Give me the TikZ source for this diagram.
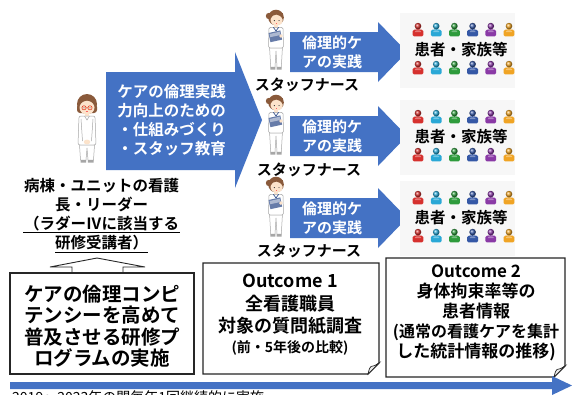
\documentclass[tikz,border=0pt]{standalone}
\usepackage{fontspec}
\setmainfont[BoldFont={Noto Sans CJK JP Bold}]{Noto Sans CJK JP}
\usetikzlibrary{calc}

\definecolor{flowblue}{HTML}{4472C4}
\definecolor{hair}{HTML}{8A5A3B}
\definecolor{skin}{HTML}{FCE3CB}
\definecolor{navy}{HTML}{34508C}
\definecolor{pred}{HTML}{D6312E}
\definecolor{pcyan}{HTML}{2AA8D6}
\definecolor{pgreen}{HTML}{2E9B3C}
\definecolor{pblue}{HTML}{3558A6}
\definecolor{ppurple}{HTML}{8A3AA6}
\definecolor{porange}{HTML}{F0A424}

\tikzset{
  % small coloured person icon
  pics/person/.style={code={
    \fill[#1,rounded corners=1.3] (-5.4,6.3) -- (-5.4,2.4) .. controls (-5.4,-1.4) and (5.4,-1.4) .. (5.4,2.4) -- (5.4,6.3) -- cycle;
    \fill[white,opacity=.35] (-2.8,1.2) .. controls (-2.2,0) and (2.2,0) .. (2.8,1.2) -- (2.8,2.1) -- (-2.8,2.1) -- cycle;
    \shade[ball color=#1] (0,-3.9) circle (3.3);
  }},
  % head nurse with glasses, hands folded
  pics/headnurse/.style={code={
    \fill[hair] (0,-1) circle (10);
    \fill[hair,rounded corners=3] (-10,-1) rectangle (10,8);
    \fill[skin] (0,2.5) ellipse (7.5 and 7);
    \fill[hair] (-7.6,1) .. controls (-4,-6.5) and (4,-6.5) .. (7.6,1) -- (7.6,-7) -- (-7.6,-7) -- cycle;
    \draw[red!55!brown,line width=.55] (-3,2.8) circle (2.1) (3,2.8) circle (2.1) (-0.9,2.8) -- (0.9,2.8);
    \fill[black!80] (-3,2.9) circle (.55) (3,2.9) circle (.55);
    \draw[red!60,line width=.5] (-1.3,6.3) .. controls (0,7.2) .. (1.3,6.3);
    \fill[skin] (-2,8.5) rectangle (2,11.5);
    \filldraw[fill=white,draw=black!35,line width=.5,rounded corners=2] (-8,11) -- (8,11) -- (9,40) -- (-9,40) -- cycle;
    \draw[black!35,line width=.5] (-2.5,11) -- (0,15) -- (2.5,11);
    \draw[black!35,line width=.5] (-6,14) -- (-4.5,36) (6,14) -- (4.5,36);
    \fill[skin] (0,37) ellipse (3.2 and 2.4);
    \filldraw[fill=white,draw=black!35,line width=.5] (-7.5,40) -- (7.5,40) -- (6.5,55) -- (1,55) -- (0,43) -- (-1,55) -- (-6.5,55) -- cycle;
    \fill[black!35] (-6.5,55) rectangle (-0.8,57.5) (0.8,55) rectangle (6.5,57.5);
  }},
  % staff nurse holding a file
  pics/staffnurse/.style={code={
    \fill[hair] (0,-0.5) circle (7.8);
    \fill[hair] (-7,-2) circle (3.2);
    \fill[skin] (0.6,1.9) ellipse (6.1 and 5.7);
    \fill[hair] (-5.7,0.8) .. controls (-3,-5) and (3.5,-4.8) .. (6.8,1.2) -- (6.8,-5) -- (-5.7,-5) -- cycle;
    \fill[black!80] (-1.7,2.6) circle (.6) (3,2.6) circle (.6);
    \draw[red!60,line width=.4] (-0.2,5.5) .. controls (0.6,6.1) .. (1.4,5.5);
    \fill[skin] (-1.6,6.8) rectangle (1.6,9.8);
    \filldraw[fill=white,draw=black!35,line width=.5,rounded corners=1.5] (-7,9.3) -- (7,9.3) -- (7.5,30) -- (-7.5,30) -- cycle;
    \draw[navy,line width=.7] (-2.6,9.3) -- (0,13) -- (2.6,9.3);
    \fill[navy!75] (-7.5,15) -- (4.3,12.4) -- (6.2,21.6) -- (-5.6,24.2) -- cycle;
    \fill[navy!40] (-6.4,16) -- (3.8,13.7) -- (4.5,17) -- (-5.8,19.2) -- cycle;
    \fill[skin] (4.9,18) circle (1.9);
    \filldraw[fill=white,draw=black!35,line width=.5] (-6.4,30) -- (6.4,30) -- (5.3,49) -- (1,49) -- (0,33) -- (-1,49) -- (-5.3,49) -- cycle;
    \fill[black!35] (-5.6,49) rectangle (-0.6,51.5) (0.6,49) rectangle (5.6,51.5);
  }},
  lbl/.style={font=\bfseries\fontsize{15.5}{19}\selectfont, align=center, inner sep=0pt},
  armtext/.style={font=\bfseries\fontsize{15.5}{19}\selectfont, text=white, align=center, inner sep=0pt},
  smalltext/.style={font=\bfseries\fontsize{15}{19}\selectfont, text=white, align=center, inner sep=0pt},
  stafflbl/.style={font=\bfseries\fontsize{15}{19}\selectfont, inner sep=0pt},
  grouptext/.style={font=\bfseries\fontsize{15.5}{19}\selectfont, inner sep=0pt},
  boxline/.style={draw=black!85, line width=1.2pt},
  boxtext/.style={font=\bfseries\fontsize{19.5}{21.4}\selectfont, align=center, inner sep=0pt},
  earfold/.style={fill=black!8, draw=black!85, line width=.7pt},
}

\begin{document}
\begin{tikzpicture}[x=1pt,y=-1pt]
\useasboundingbox (0,0) rectangle (572,394);
\clip (0,0) rectangle (572,394);
\fill[white] (0,0) rectangle (572,394);

% ---- head nurse and policy arrow ----
\pic at (87,105) {headnurse};
\fill[flowblue] (106,72) -- (235,72) -- (235,52) -- (262,120) -- (235,188) -- (235,170) -- (106,170) -- cycle;
\node[armtext] (policy) at (171.5,120.5) {ケアの倫理実践\\力向上のための\\・仕組みづくり\\・スタッフ教育};

\node[lbl] (leader) at (101.5,214.5) {病棟・ユニットの看護\\長・リーダー\\（ラダーⅣに該当する\\研修受講者）};
\draw[line width=.9pt] (23,232.5) -- (180,232.5) (55,252.5) -- (148,252.5);

% ---- training programme box with arrow up to the leader ----
\filldraw[fill=white, draw=black!85, line width=.9pt] (72,274) -- (72,267) -- (50,267) -- (97,258) -- (145,267) -- (123,267) -- (123,274);
\node[boxline, fill=white, minimum width=184pt, minimum height=101pt, inner sep=0pt] (prog) at (102,323.5) {};
\node[boxtext] (progtext) at (102,326) {ケアの倫理コンピ\\テンシーを高めて\\普及させる研修プ\\ログラムの実施};

% ---- staff nurses, ethical care arrows, patients ----
\foreach \c/\lx/\ly/\ny [count=\k] in {52/307/85/18, 136/309/170/103, 218/309/251/185} {
  \pic at (276,\ny) {staffnurse};
  \node[stafflbl] (staff\k) at (\lx,\ly) {スタッフナース};
  \fill[flowblue] (290,\c-20) -- (378,\c-20) -- (378,\c-30) -- (407,\c) -- (378,\c+30) -- (378,\c+20) -- (290,\c+20) -- cycle;
  \node[smalltext] (care\k) at (332,\c) {倫理的ケ\\アの実践};
}
\foreach \t [count=\k] in {50,137,218} {
  \fill[black!3] (400,\t-37) rectangle (515,\t+38);
  \node[grouptext] (patients\k) at (461,\t) {患者・家族等};
  \foreach \col [count=\i from 0] in {pred,pcyan,pgreen,pblue,ppurple,porange} {
    \pic at (418+18.2*\i,\t-20) {person=\col};
    \pic at (418+18.2*\i,\t+18) {person=\col};
  }
}

% ---- outcome notes ----
\filldraw[boxline, fill=white] (203,263) -- (379,263) -- (379,363) -- (368,374) -- (203,374) -- cycle;
\filldraw[earfold] (368,374) .. controls (369.5,368) .. (371,366.5) .. controls (374,366) .. (379,363) -- cycle;
\node[font=\bfseries\fontsize{18}{22.5}\selectfont, align=center, inner sep=0pt] (o1) at (290,304.5) {Outcome 1\\全看護職員\\対象の質問紙調査};
\node[font=\bfseries\fontsize{14}{18}\selectfont, inner sep=0pt] (o1note) at (290,348) {(前・5年後の比較)};

\filldraw[boxline, fill=white] (386,258) -- (565,258) -- (565,366) -- (554,377) -- (386,377) -- cycle;
\filldraw[earfold] (554,377) .. controls (555.5,371) .. (557,369.5) .. controls (560,369) .. (565,366) -- cycle;
\node[font=\bfseries\fontsize{17}{20}\selectfont, align=center, inner sep=0pt] (o2) at (476,312.5) {Outcome 2\\身体拘束率等の\\患者情報\\\fontsize{16}{20}\selectfont(通常の看護ケアを集計\\した統計情報の推移)};

% ---- timeline ----
\coordinate (tstart) at (10,385.5);
\coordinate (tend) at (572,385.5);
\fill[flowblue] (tstart) ++(0,-3.5) -- (552,382) -- (552,376) -- (tend) -- (552,395) -- (552,389) -- ($(tstart)+(0,3.5)$) -- cycle;
\node[anchor=base west, font=\fontsize{14}{17}\selectfont, inner sep=0pt] (period) at (12,402.3) {2019～2023年の間毎年1回継続的に実施};
\end{tikzpicture}
\end{document}
